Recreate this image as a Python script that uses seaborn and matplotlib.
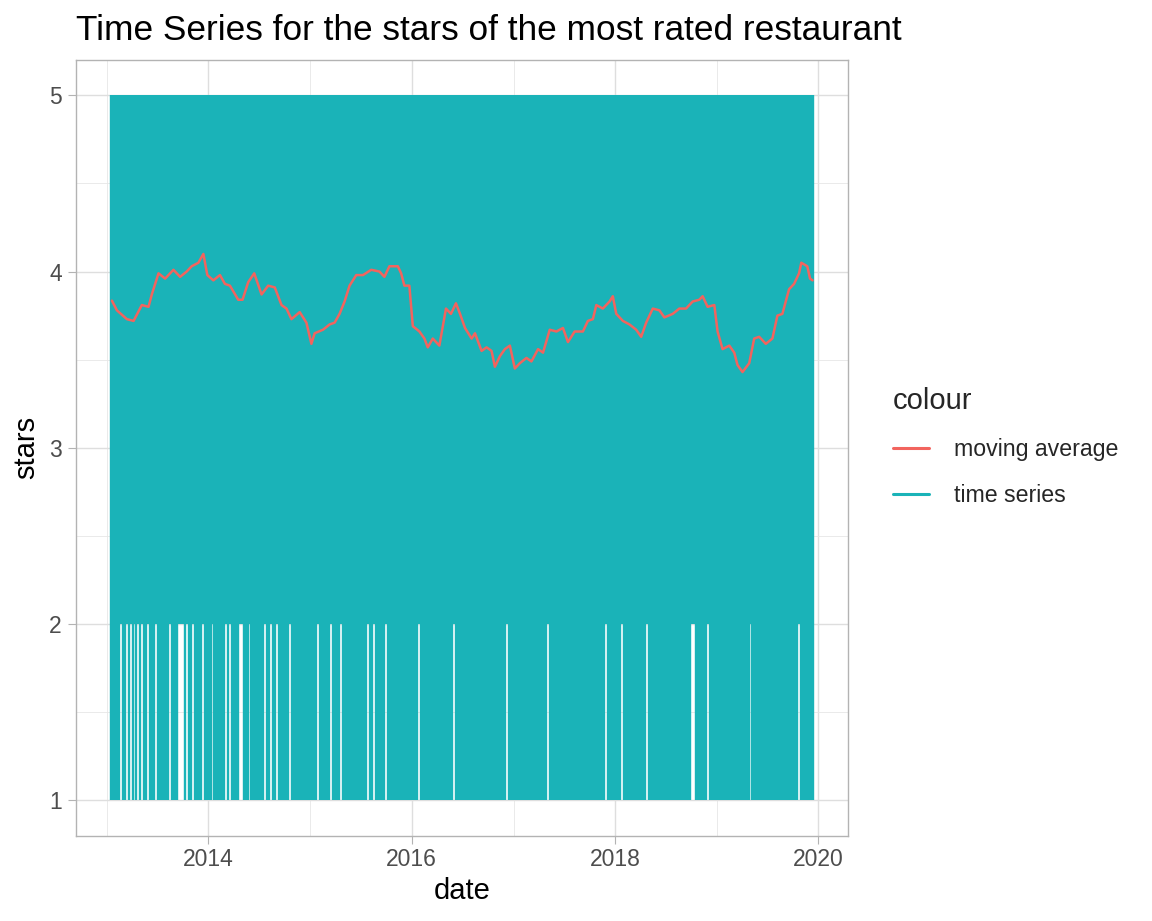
import matplotlib
matplotlib.use("Agg")
import matplotlib.dates as mdates
import matplotlib.pyplot as plt
import numpy as np
import pandas as pd
import seaborn as sns
from matplotlib.lines import Line2D
from matplotlib.ticker import MultipleLocator

TEAL = "#1AB3B8"
RED = "#F2645E"

# weekly readings of the restaurant, first week starting 2013-01-17
week_start = "2013-01-17"
week_high = [
    "5555555555 5555555555 5555555555 5555555555",
    "5555555555 5555555555 5555555555 5555555555",
    "5555555555 5555555555 5555555555 5555555555",
    "5555555555 5555555555 5555555555 5555555555",
    "5555555555 5555555555 5555555555 5555555555",
    "5555555555 5555555555 5555555555 5555555555",
    "5555555555 5555555555 5555555555 5555555555",
    "5555555555 5555555555 5555555555 5555555555",
    "5555555555 5555555555 5555555555 5555555555",
    "5",
]
week_low = [
    "1111121121 2121212112 1112111111 2111122212",
    "1121111211 1121111112 1211112211 1211111112",
    "1121121111 1121111111 1111112111 1112111121",
    "1111111111 1121121111 1211111111 1111111121",
    "1111111111 1111112111 1111111111 1111111111",
    "1112111111 1111111111 1111211111 1111111111",
    "1111111111 1111211111 1121111111 1111121111",
    "1111111111 1111111122 1111112111 1111111111",
    "1111111121 1111111111 1111111111 1112111111",
    "1",
]

# moving average (decimal year, stars)
ma_years = [
    2013.052, 2013.101, 2013.199, 2013.265, 2013.346, 2013.412, 2013.444, 2013.510,
    2013.575, 2013.657, 2013.722, 2013.787, 2013.836, 2013.902, 2013.951, 2013.990,
    2014.049, 2014.114, 2014.163, 2014.212, 2014.294, 2014.336, 2014.392, 2014.451,
    2014.523, 2014.588, 2014.653, 2014.719, 2014.768, 2014.817, 2014.898, 2014.964,
    2015.013, 2015.045, 2015.127, 2015.192, 2015.241, 2015.290, 2015.339, 2015.388,
    2015.454, 2015.520, 2015.601, 2015.682, 2015.731, 2015.780, 2015.863, 2015.895,
    2015.927, 2015.976, 2016.010, 2016.075, 2016.124, 2016.157, 2016.206, 2016.271,
    2016.336, 2016.385, 2016.434, 2016.474, 2016.523, 2016.588, 2016.621, 2016.686,
    2016.735, 2016.784, 2016.817, 2016.866, 2016.915, 2016.964, 2017.013, 2017.062,
    2017.127, 2017.176, 2017.241, 2017.290, 2017.356, 2017.422, 2017.486, 2017.535,
    2017.601, 2017.682, 2017.731, 2017.780, 2017.814, 2017.878, 2017.944, 2017.976,
    2018.010, 2018.075, 2018.140, 2018.206, 2018.255, 2018.304, 2018.369, 2018.434,
    2018.483, 2018.565, 2018.630, 2018.696, 2018.761, 2018.826, 2018.859, 2018.908,
    2018.974, 2019.006, 2019.055, 2019.121, 2019.170, 2019.202, 2019.251, 2019.317,
    2019.366, 2019.415, 2019.480, 2019.545, 2019.594, 2019.643, 2019.709, 2019.758,
    2019.807, 2019.829, 2019.888, 2019.915, 2019.940,
]
ma_stars = [
    3.835, 3.78, 3.73, 3.72, 3.81, 3.80, 3.87, 3.99,
    3.96, 4.01, 3.97, 4.00, 4.03, 4.05, 4.10, 3.98,
    3.95, 3.98, 3.93, 3.92, 3.84, 3.84, 3.94, 3.99,
    3.87, 3.92, 3.91, 3.81, 3.79, 3.73, 3.77, 3.71,
    3.59, 3.65, 3.67, 3.70, 3.71, 3.76, 3.83, 3.92,
    3.98, 3.98, 4.01, 4.00, 3.97, 4.03, 4.03, 3.99,
    3.92, 3.92, 3.69, 3.66, 3.62, 3.57, 3.62, 3.58,
    3.79, 3.76, 3.82, 3.76, 3.68, 3.62, 3.65, 3.55,
    3.57, 3.55, 3.46, 3.52, 3.56, 3.58, 3.45, 3.48,
    3.51, 3.49, 3.56, 3.54, 3.67, 3.66, 3.68, 3.60,
    3.66, 3.66, 3.72, 3.73, 3.81, 3.79, 3.83, 3.86,
    3.76, 3.72, 3.70, 3.67, 3.63, 3.71, 3.79, 3.78,
    3.74, 3.76, 3.79, 3.79, 3.83, 3.84, 3.86, 3.80,
    3.81, 3.66, 3.56, 3.58, 3.54, 3.47, 3.43, 3.48,
    3.62, 3.63, 3.59, 3.62, 3.75, 3.76, 3.90, 3.93,
    3.99, 4.05, 4.03, 3.96, 3.95,
]


def build_series():
    highs = "".join(week_high).replace(" ", "")
    lows = "".join(week_low).replace(" ", "")
    weeks = pd.date_range(week_start, periods=len(lows), freq="7D")
    rows = []
    for k, (d, hi, lo) in enumerate(zip(weeks, highs, lows)):
        rows.append((d, int(hi), k))
        rows.append((d, int(lo), k))
    return pd.DataFrame(rows, columns=["date", "stars", "week"])


def main():
    sns.set_theme(style="white")
    plt.rcParams["font.family"] = ["Liberation Sans", "DejaVu Sans"]

    ts = build_series()
    yrs = np.array(ma_years)
    ma = pd.DataFrame({
        "date": pd.Timestamp("2013-01-01") + pd.to_timedelta((yrs - 2013) * 365.25, unit="D"),
        "stars": ma_stars,
    })

    fig = plt.figure(figsize=(11.52, 9.21), dpi=100)
    ax = fig.add_axes([76 / 1152, 1 - 835.7 / 921, 772 / 1152, 775.7 / 921])
    ax.set_axisbelow(True)

    # one vertical stroke per week, drawn thick enough to close up the band
    sns.lineplot(data=ts, x="date", y="stars", units="week", estimator=None,
                 color=TEAL, linewidth=1.72, solid_capstyle="butt", ax=ax, zorder=2)
    sns.lineplot(data=ma, x="date", y="stars", estimator=None, sort=False,
                 color=RED, linewidth=1.8, ax=ax, zorder=3)

    ax.xaxis.set_major_locator(mdates.YearLocator(2))
    ax.xaxis.set_major_formatter(mdates.DateFormatter("%Y"))
    ax.xaxis.set_minor_locator(mdates.YearLocator(1))
    ax.set_yticks([1, 2, 3, 4, 5])
    ax.yaxis.set_minor_locator(MultipleLocator(0.5))

    ax.grid(which="major", color="#DEDEDE", linewidth=1.0)
    ax.grid(which="minor", color="#E6E6E6", linewidth=0.6)
    for sp in ax.spines.values():
        sp.set_color("#B3B3B3")
        sp.set_linewidth(1.0)
    ax.tick_params(which="major", length=5.8, width=0.8, color="#B3B3B3",
                   labelcolor="#4D4D4D", labelsize=16.5, bottom=True, left=True)
    ax.tick_params(axis="x", pad=3.2)
    ax.tick_params(axis="y", pad=4.5)
    ax.tick_params(which="minor", length=0)

    ax.set_xlabel("date", fontsize=21, color="black", labelpad=4)
    ax.set_ylabel("stars", fontsize=21, color="black", labelpad=6)

    fig.text(76 / 1152, 1 - 40 / 921, "Time Series for the stars of the most rated restaurant",
             fontsize=25.4, color="black", ha="left", va="baseline")

    handles = [Line2D([], [], color=RED, linewidth=2.2),
               Line2D([], [], color=TEAL, linewidth=2.2)]
    fig.legend(handles, ["moving average", "time series"], title="colour",
               loc="upper left", bbox_to_anchor=(893 / 1152, 1 - 387 / 921),
               frameon=False, fontsize=16.7, title_fontsize=21,
               handlelength=1.55, handletextpad=1.08, labelspacing=1.0,
               borderpad=0, borderaxespad=0, alignment="left")

    fig.savefig("out.png", dpi=100)


if __name__ == "__main__":
    main()
